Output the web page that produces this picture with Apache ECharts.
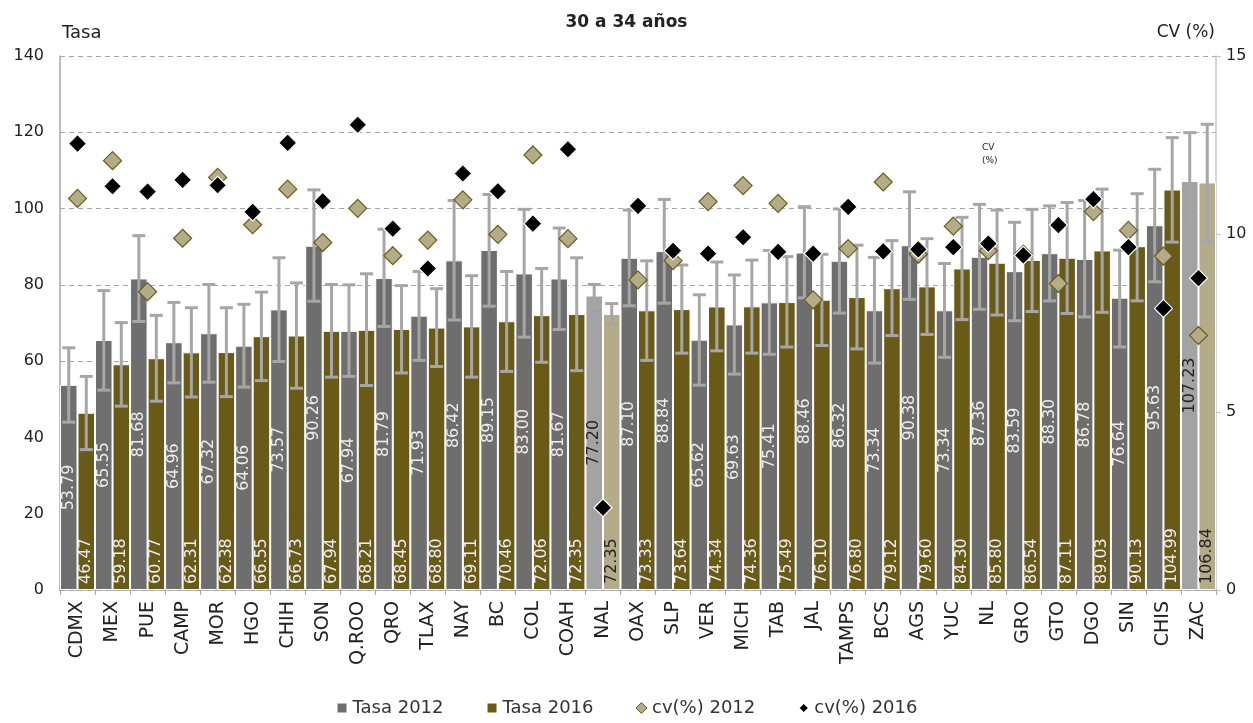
<!DOCTYPE html>
<html>
<head>
<meta charset="utf-8">
<script src="https://cdn.jsdelivr.net/npm/echarts@6/dist/echarts.min.js"></script>
<style>html,body{margin:0;padding:0;background:#fff}#c{width:1253px;height:723px}</style>
</head>
<body>
<div id="c"></div>
<script>
const categories = ['CDMX','MEX','PUE','CAMP','MOR','HGO','CHIH','SON','Q.ROO','QRO','TLAX','NAY','BC','COL','COAH','NAL','OAX','SLP','VER','MICH','TAB','JAL','TAMPS','BCS','AGS','YUC','NL','GRO','GTO','DGO','SIN','CHIS','ZAC'];
const highlightCats = ['NAL','ZAC'];

const tasa2012 = [53.79,65.55,81.68,64.96,67.32,64.06,73.57,90.26,67.94,81.79,71.93,86.42,89.15,83.00,81.67,77.20,87.10,88.84,65.62,69.63,75.41,88.46,86.32,73.34,90.38,73.34,87.36,83.59,88.30,86.78,76.64,95.63,107.23];
const tasa2016 = [46.47,59.18,60.77,62.31,62.38,66.55,66.73,67.94,68.21,68.45,68.80,69.11,70.46,72.06,72.35,72.35,73.33,73.64,74.34,74.36,75.49,76.10,76.80,79.12,79.60,84.30,85.80,86.54,87.11,89.03,90.13,104.99,106.84];

const low2012  = [44.0,52.4,70.4,54.3,54.5,53.2,59.9,75.7,56.0,69.1,60.2,70.8,74.4,66.3,68.3,74.2,74.5,75.2,53.7,56.6,61.8,76.6,72.6,59.5,76.2,61.0,73.6,70.6,75.8,71.6,63.7,80.8,94.6];
const high2012 = [63.5,78.5,92.9,75.4,80.1,74.9,87.1,104.9,80.0,94.6,83.5,102.1,103.7,99.8,94.9,80.1,99.6,102.4,77.4,82.6,89.0,100.5,99.9,87.2,104.4,85.6,101.1,96.4,100.7,102.1,89.1,110.3,119.9];
const low2016  = [36.8,48.2,49.5,50.6,50.7,54.9,52.9,55.8,53.6,56.9,58.6,55.8,57.3,59.7,57.5,69.7,60.2,62.1,62.7,62.1,63.7,64.1,63.2,66.7,67.0,70.9,72.1,73.0,72.5,72.8,75.8,91.2,91.3];
const high2016 = [56.0,70.1,72.0,74.0,74.0,78.1,80.5,80.1,82.9,79.8,79.0,82.4,83.5,84.3,87.1,75.1,86.3,85.2,86.0,86.5,87.4,88.0,90.4,91.6,92.1,97.7,99.6,99.8,101.6,105.1,103.9,118.6,122.1];

const cv2012 = [11.0,12.06,8.38,9.88,11.59,10.26,11.26,9.76,10.72,9.39,9.83,10.96,9.99,12.22,9.87,null,8.71,9.25,10.91,11.36,10.86,8.15,9.59,11.46,9.43,10.22,9.53,9.43,8.61,10.63,10.10,9.38,7.15];
const cv2016 = [12.54,11.34,11.19,11.52,11.37,10.62,12.56,10.92,13.07,10.15,9.03,11.70,11.20,10.29,12.38,2.31,10.79,9.53,9.45,9.91,9.50,9.45,10.76,9.51,9.57,9.63,9.73,9.40,10.25,10.98,9.63,7.91,8.76];

const leftTicks = {min:0, max:140, interval:20};
const rightTicks = {min:0, max:15, interval:5};

const FONT = 'DejaVu Sans';
const C12 = '#6e6e6e', C16 = '#695a18', C12h = '#a3a3a3', C16h = '#b4ac88';
const ERR = '#a6a6a6';

function barData(vals, normal, hi) {
  return vals.map((v,i) => {
    const h = highlightCats.includes(categories[i]);
    return {value: v, itemStyle: {color: h ? hi : normal},
      label: {color: h ? '#222' : '#eeeeee'}};
  });
}

function errRender(sign) {
  return function(params, api) {
    const x = api.value(0), lo = api.value(1), hi = api.value(2);
    const pHi = api.coord([x, hi]);
    const pLo = api.coord([x, lo]);
    const bw = api.size([1, 0])[0];
    const cx = pHi[0] + sign * bw / 4;
    const hw = 6.5;
    const st = {stroke: ERR, lineWidth: 3};
    return {type: 'group', children: [
      {type: 'line', shape: {x1: cx, y1: pHi[1], x2: cx, y2: pLo[1]}, style: st},
      {type: 'line', shape: {x1: cx - hw, y1: pHi[1], x2: cx + hw, y2: pHi[1]}, style: st},
      {type: 'line', shape: {x1: cx - hw, y1: pLo[1], x2: cx + hw, y2: pLo[1]}, style: st}
    ]};
  };
}

const chart = echarts.init(document.getElementById('c'), null, {renderer: 'canvas'});
const option = {
  backgroundColor: '#fff',
  animation: false,
  textStyle: {fontFamily: FONT},
  title: {text: '30 a 34 años', left: 'center', top: 9,
    textStyle: {fontFamily: FONT, fontSize: 17, fontWeight: 'bold', color: '#222'}},
  grid: {left: 60, right: 37, top: 56, bottom: 133, containLabel: false},
  legend: {
    bottom: 1, left: 'center', itemGap: 42, itemWidth: 11, itemHeight: 11,
    textStyle: {fontFamily: FONT, fontSize: 18, color: '#333'},
    data: [
      {name: 'Tasa 2012', icon: 'rect', itemStyle: {color: C12}},
      {name: 'Tasa 2016', icon: 'rect', itemStyle: {color: C16}},
      {name: 'cv(%) 2012', icon: 'diamond', itemStyle: {color: '#b4ac88', borderColor: '#6b5b1a', borderWidth: 1}},
      {name: 'cv(%) 2016', icon: 'diamond', itemStyle: {color: '#000'}}
    ]
  },
  graphic: [
    {type: 'text', left: 62, top: 24, style: {text: 'Tasa', font: '18px "' + FONT + '"', fill: '#222'}},
    {type: 'text', right: 38, top: 24, style: {text: 'CV (%)', font: '17px "' + FONT + '"', fill: '#222'}},
    {type: 'text', left: 982, top: 141, style: {text: 'CV\n(%)', font: '9px "' + FONT + '"', fill: '#222', align: 'center', lineHeight: 13}}
  ],
  xAxis: {
    type: 'category', data: categories,
    axisLine: {lineStyle: {color: '#a6a6a6', width: 1.5}},
    axisTick: {show: true, alignWithLabel: false, length: 5, lineStyle: {color: '#a6a6a6'}},
    axisLabel: {rotate: 90, fontSize: 19, color: '#222', margin: 11, fontFamily: FONT},
    splitLine: {show: false}
  },
  yAxis: [
    {type: 'value', min: leftTicks.min, max: leftTicks.max, interval: leftTicks.interval,
      axisLine: {show: true, lineStyle: {color: '#a6a6a6', width: 1.5}},
      axisTick: {show: false},
      axisLabel: {fontSize: 16, color: '#222', margin: 16, fontFamily: FONT},
      splitLine: {show: true, lineStyle: {color: '#a6a6a6', type: [5, 4], width: 1}}
    },
    {type: 'value', min: rightTicks.min, max: rightTicks.max, interval: rightTicks.interval,
      axisLine: {show: true, lineStyle: {color: '#c8c8c8', width: 1.5}},
      axisTick: {show: true, length: 5, lineStyle: {color: '#c8c8c8'}},
      axisLabel: {fontSize: 16, color: '#222', margin: 10, fontFamily: FONT},
      splitLine: {show: false}
    }
  ],
  series: [
    {name: 'Tasa 2012', type: 'bar', barGap: '0%', barCategoryGap: '0%',
      data: barData(tasa2012, C12, C12h),
      itemStyle: {borderColor: '#fff', borderWidth: 1},
      label: {show: true, position: 'inside', rotate: 90, fontSize: 16, fontFamily: FONT,
        formatter: p => p.value.toFixed(2)}
    },
    {name: 'Tasa 2016', type: 'bar', barGap: '0%', barCategoryGap: '0%',
      data: barData(tasa2016, C16, C16h),
      itemStyle: {borderColor: '#fff', borderWidth: 1},
      label: {show: true, position: 'insideBottom', rotate: 90, align: 'left', verticalAlign: 'middle',
        distance: 6, fontSize: 16, fontFamily: FONT, formatter: p => p.value.toFixed(2)}
    },
    {name: 'err2012', type: 'custom', renderItem: errRender(-1), z: 3,
      data: categories.map((c, i) => [i, low2012[i], high2012[i]]), encode: {x: 0, y: [1, 2]}},
    {name: 'err2016', type: 'custom', renderItem: errRender(1), z: 3,
      data: categories.map((c, i) => [i, low2016[i], high2016[i]]), encode: {x: 0, y: [1, 2]}},
    {name: 'cv(%) 2012', type: 'scatter', yAxisIndex: 1, symbol: 'diamond', symbolSize: 18, z: 5,
      data: cv2012, itemStyle: {color: '#b4ac88', borderColor: '#6b5b1a', borderWidth: 1.2, opacity: 1}},
    {name: 'cv(%) 2016', type: 'scatter', yAxisIndex: 1, symbol: 'diamond', symbolSize: 18, z: 6,
      data: cv2016, itemStyle: {color: '#000', borderColor: '#fff', borderWidth: 1.2, opacity: 1}}
  ]
};
chart.setOption(option);
</script>
</body>
</html>
